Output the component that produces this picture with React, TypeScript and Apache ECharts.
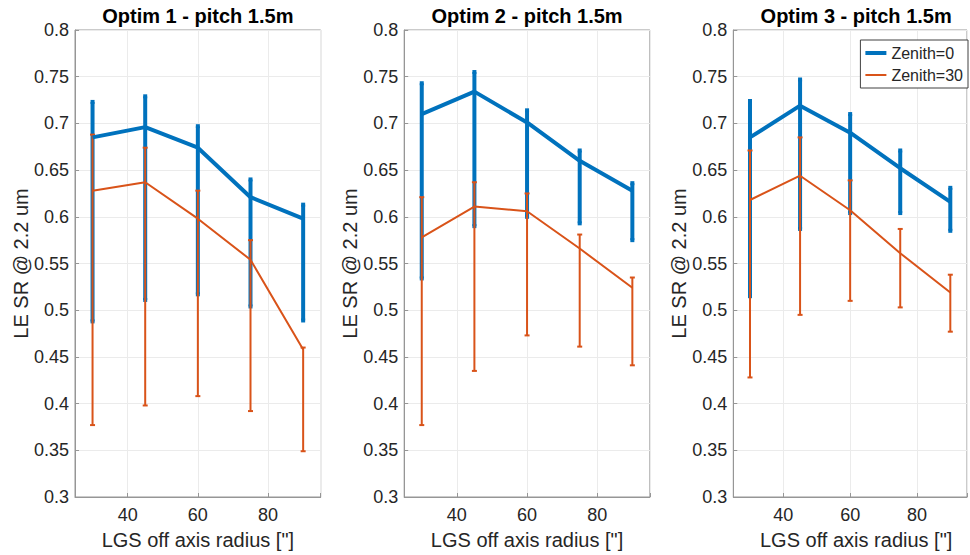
import React, { useEffect, useRef } from "react";
import * as echarts from "echarts";

// ---- data ----
const radius = [30, 45, 60, 75, 90];
const panelTitles = ["Optim 1 - pitch 1.5m", "Optim 2 - pitch 1.5m", "Optim 3 - pitch 1.5m"];
const seriesNames = ["Zenith=0", "Zenith=30"];
const yTicksMin = 0.3;
const yTicksMax = 0.8;
const yTickStep = 0.05;
const xMin = 25;
const xMax = 95;

const optim1Zen0 = [0.685, 0.696, 0.674, 0.621, 0.598];
const optim1Zen0Lo = [0.488, 0.511, 0.517, 0.504, 0.489];
const optim1Zen0Hi = [0.723, 0.729, 0.697, 0.64, 0.613];
const optim1Zen30 = [0.628, 0.637, 0.598, 0.554, 0.458];
const optim1Zen30Lo = [0.377, 0.398, 0.408, 0.392, 0.349];
const optim1Zen30Hi = [0.688, 0.674, 0.628, 0.575, 0.46];

const optim2Zen0 = [0.71, 0.734, 0.701, 0.66, 0.628];
const optim2Zen0Lo = [0.534, 0.59, 0.6, 0.593, 0.575];
const optim2Zen0Hi = [0.743, 0.755, 0.714, 0.671, 0.636];
const optim2Zen30 = [0.578, 0.611, 0.606, 0.566, 0.524];
const optim2Zen30Lo = [0.377, 0.435, 0.473, 0.461, 0.441];
const optim2Zen30Hi = [0.621, 0.637, 0.625, 0.581, 0.535];

const optim3Zen0 = [0.685, 0.719, 0.69, 0.652, 0.616];
const optim3Zen0Lo = [0.515, 0.587, 0.604, 0.604, 0.585];
const optim3Zen0Hi = [0.724, 0.747, 0.71, 0.671, 0.631];
const optim3Zen30 = [0.618, 0.644, 0.607, 0.561, 0.519];
const optim3Zen30Lo = [0.428, 0.495, 0.51, 0.503, 0.477];
const optim3Zen30Hi = [0.671, 0.685, 0.639, 0.587, 0.538];

const panels = [
  { mean0: optim1Zen0, lo0: optim1Zen0Lo, hi0: optim1Zen0Hi, mean30: optim1Zen30, lo30: optim1Zen30Lo, hi30: optim1Zen30Hi },
  { mean0: optim2Zen0, lo0: optim2Zen0Lo, hi0: optim2Zen0Hi, mean30: optim2Zen30, lo30: optim2Zen30Lo, hi30: optim2Zen30Hi },
  { mean0: optim3Zen0, lo0: optim3Zen0Lo, hi0: optim3Zen0Hi, mean30: optim3Zen30, lo30: optim3Zen30Lo, hi30: optim3Zen30Hi },
];

// ---- layout / style ----
const W = 970;
const H = 555;
const gridLefts = [75, 404.2, 733.3];
const gridWidth = 245.7;
const gridTop = 30;
const gridHeight = 467;
const BLUE = "#0072BD";
const ORANGE = "#D95319";
const FONT = '"Liberation Sans", Arial, Helvetica, sans-serif';
const AXIS_COLOR = "#969696";
const TEXT_COLOR = "#262626";

function errorBarSeries(name: string, gridIdx: number, lo: number[], hi: number[], color: string, lw: number, capHalf: number) {
  return {
    type: "custom",
    name,
    xAxisIndex: gridIdx,
    yAxisIndex: gridIdx,
    encode: { x: 0, y: [1, 2] },
    data: radius.map((r, i) => [r, lo[i], hi[i]]),
    renderItem: (_params: any, api: any) => {
      const x = api.value(0);
      const top = api.coord([x, api.value(2)]);
      const bot = api.coord([x, api.value(1)]);
      const style = { stroke: color, lineWidth: lw };
      return {
        type: "group",
        children: [
          { type: "line", shape: { x1: top[0], y1: top[1], x2: bot[0], y2: bot[1] }, style },
          { type: "line", shape: { x1: top[0] - capHalf, y1: top[1], x2: top[0] + capHalf, y2: top[1] }, style },
          { type: "line", shape: { x1: bot[0] - capHalf, y1: bot[1], x2: bot[0] + capHalf, y2: bot[1] }, style },
        ],
      };
    },
    silent: true,
  };
}

export default function App() {
  const ref = useRef<HTMLDivElement>(null);
  useEffect(() => {
    if (!ref.current) return;
    const chart = echarts.init(ref.current, null, { renderer: "svg" });

    const grid = gridLefts.map((l) => ({
      left: l,
      width: gridWidth,
      top: gridTop,
      height: gridHeight,
      show: true,
      borderColor: AXIS_COLOR,
      borderWidth: 1,
      backgroundColor: "#fff",
      containLabel: false,
    }));

    const xAxis = gridLefts.map((_, i) => ({
      type: "value",
      gridIndex: i,
      min: xMin,
      max: xMax,
      splitNumber: 3,
      axisLine: { show: true, lineStyle: { color: AXIS_COLOR, width: 1 } },
      axisTick: { show: true, inside: true, length: 4, lineStyle: { color: AXIS_COLOR } },
      axisLabel: {
        show: true,
        margin: 9,
        fontSize: 18,
        fontFamily: FONT,
        color: TEXT_COLOR,
        formatter: (v: number) => (v % 20 === 0 ? String(v) : ""),
      },
      splitLine: { show: true, lineStyle: { color: "#ebebeb", width: 1 } },
    }));

    const yAxis = gridLefts.map((_, i) => ({
      type: "value",
      gridIndex: i,
      min: yTicksMin,
      max: yTicksMax,
      interval: yTickStep,
      axisLine: { show: true, lineStyle: { color: AXIS_COLOR, width: 1 } },
      axisTick: { show: true, inside: true, length: 4, lineStyle: { color: AXIS_COLOR } },
      axisLabel: {
        show: true,
        margin: 6,
        fontSize: 18,
        fontFamily: FONT,
        color: TEXT_COLOR,
        formatter: (v: number) => String(Math.round(v * 100) / 100),
      },
      splitLine: { show: true, lineStyle: { color: "#ebebeb", width: 1 } },
    }));

    const series: any[] = [];
    panels.forEach((p, i) => {
      series.push({
        type: "line",
        name: seriesNames[0],
        xAxisIndex: i,
        yAxisIndex: i,
        data: radius.map((r, k) => [r, p.mean0[k]]),
        symbol: "none",
        lineStyle: { color: BLUE, width: 4 },
        itemStyle: { color: BLUE },
        silent: true,
      });
      series.push(errorBarSeries("err0_" + i, i, p.lo0, p.hi0, BLUE, 4, 2));
      series.push({
        type: "line",
        name: seriesNames[1],
        xAxisIndex: i,
        yAxisIndex: i,
        data: radius.map((r, k) => [r, p.mean30[k]]),
        symbol: "none",
        lineStyle: { color: ORANGE, width: 2 },
        itemStyle: { color: ORANGE },
        silent: true,
      });
      series.push(errorBarSeries("err30_" + i, i, p.lo30, p.hi30, ORANGE, 2, 2.5));
    });

    const graphic: any[] = [];
    gridLefts.forEach((l, i) => {
      const cx = l + gridWidth / 2;
      graphic.push({
        type: "text",
        x: cx,
        y: 15.5,
        style: {
          text: panelTitles[i],
          font: `bold 20px ${FONT}`,
          fill: "#000",
          align: "center",
          verticalAlign: "middle",
          textAlign: "center",
          textVerticalAlign: "middle",
        },
      });
      graphic.push({
        type: "text",
        x: cx,
        y: 540,
        style: {
          text: 'LGS off axis radius ["]',
          font: `20px ${FONT}`,
          fill: TEXT_COLOR,
          align: "center",
          verticalAlign: "middle",
          textAlign: "center",
          textVerticalAlign: "middle",
        },
      });
      graphic.push({
        type: "text",
        x: l - 54,
        y: gridTop + gridHeight / 2,
        rotation: Math.PI / 2,
        style: {
          text: "LE SR @ 2.2 um",
          font: `20px ${FONT}`,
          fill: TEXT_COLOR,
          align: "center",
          verticalAlign: "middle",
          textAlign: "center",
          textVerticalAlign: "middle",
        },
      });
    });

    chart.setOption({
      animation: false,
      backgroundColor: "#fff",
      grid,
      xAxis,
      yAxis,
      series,
      graphic,
      legend: {
        data: [
          { name: seriesNames[0], icon: "path://M0,0H21V4H0Z" },
          { name: seriesNames[1], icon: "path://M0,0H21V2H0Z" },
        ],
        orient: "vertical",
        right: 2,
        top: 40,
        padding: [5, 5, 5, 5],
        itemWidth: 21,
        itemHeight: 14,
        itemGap: 6,
        symbolKeepAspect: true,
        backgroundColor: "#fff",
        borderColor: "#404040",
        borderWidth: 1,
        borderRadius: 0,
        textStyle: { fontSize: 16, fontFamily: FONT, color: TEXT_COLOR },
        selectedMode: false,
      },
    });
    return () => chart.dispose();
  }, []);
  return <div ref={ref} style={{ position: "fixed", left: 0, top: 0, width: W, height: H }} />;
}
